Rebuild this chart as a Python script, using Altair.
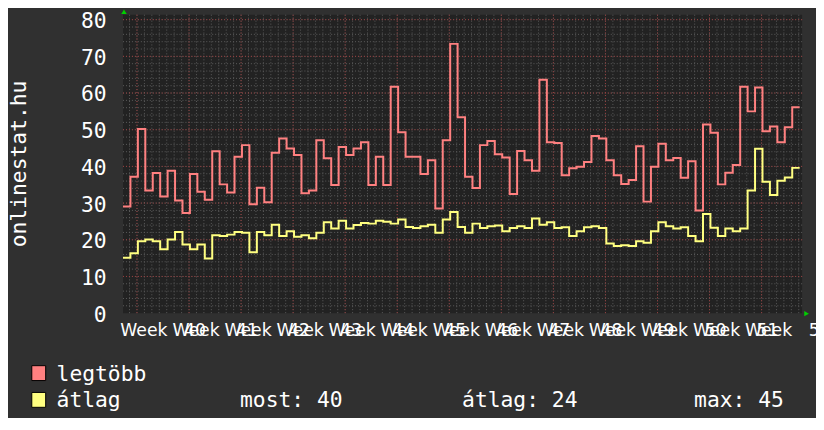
import altair as alt
import pandas as pd

# ---- data (daily steps) ----
DAYS = list(range(91))
LEGTOBB = [29.1, 37.2, 50.2, 33.4, 38.2, 31.8, 38.8, 30.7, 27.3, 37.9, 33.1, 30.9, 44.1, 35.1,
           32.9, 42.6, 45.8, 29.7, 34.2, 30.2, 43.7, 47.6, 44.9,
           43.1, 32.7, 33.4, 47.1, 42.2, 34.9, 45.3, 43.1, 44.9, 46.6, 34.9, 42.6, 34.9, 61.7,
           49.3, 42.6, 42.6, 37.9, 41.7, 28.5, 47.1, 73.4, 53.4,
           37.2, 34.1, 45.8, 46.9, 43.3, 42.4, 32.5, 44.2, 41.7, 38.8, 63.6, 46.6, 46.4, 37.6,
           39.5, 39.9, 41.2, 48.3, 47.6, 41.7, 37.6, 35.2,
           36.3, 45.5, 30.4, 39.9, 46.2, 41.7, 42.3, 36.9, 41.4, 28.0, 51.4, 49.2, 35.1, 38.3,
           40.4, 61.7, 55.0, 61.5, 49.6, 50.9, 46.6, 50.7, 56.1]
ATLAG = [15.1, 16.3, 19.6, 20.1, 19.6, 17.4, 20.1, 22.1, 18.7, 17.4, 18.7, 14.9, 21.2, 21.0,
         21.4, 22.1, 21.9, 16.6, 22.1, 21.2, 24.1, 21.0, 22.3,
         20.8, 21.2, 20.4, 21.9, 24.8, 23.1, 25.2, 23.1, 24.0, 24.6, 24.4, 25.2, 24.9, 24.4,
         25.5, 23.5, 23.2, 23.7, 24.1, 21.9, 25.5, 27.6, 23.5,
         21.9, 24.4, 23.2, 23.7, 23.9, 22.3, 23.2, 23.7, 23.2, 25.8, 24.1, 24.8, 23.2, 23.4,
         21.0, 22.3, 23.4, 23.7, 23.2, 19.0, 18.3, 18.5,
         18.3, 19.6, 19.2, 22.3, 24.8, 23.7, 23.1, 23.4, 21.0, 19.6, 27.0, 23.3, 21.0, 23.1,
         22.3, 23.1, 33.4, 44.8, 35.8, 32.2, 36.1, 37.0, 39.6]
SERIES = ["legtöbb", "átlag"]
COLORS = ["#ff8080", "#ffff80"]
WEEK_NUMBERS = list(range(40, 53))
FIRST_WEEK_DAY = 1.88          # first week boundary, in day units
Y_TICKS = list(range(0, 81, 10))
STATS = ["most: 40", "átlag: 24", "max: 45"]
TITLE = "onlinestat.hu"

X_MAX = 91.33
Y_MAX = 81.35
W, H = 685, 301
MONO = "DejaVu Sans Mono"

# ---- tables ----
rows = []
for name, vals in zip(SERIES, [LEGTOBB, ATLAG]):
    xs = DAYS + [DAYS[-1] + 1]
    ys = vals + [vals[-1]]
    for xv, yv in zip(xs, ys):
        rows.append({"day": xv, "value": yv, "series": name})
df = pd.DataFrame(rows)

week_pos = [FIRST_WEEK_DAY + 7 * i for i in range(len(WEEK_NUMBERS))]
minor_x = [FIRST_WEEK_DAY - 1 + i for i in range(int(X_MAX) + 1) if FIRST_WEEK_DAY - 1 + i < X_MAX]
minor_y = [v for v in range(2, 81, 2)]
major_y = [v for v in Y_TICKS if v > 0]

xscale = alt.Scale(domain=[0, X_MAX], nice=False, zero=False)
yscale = alt.Scale(domain=[0, Y_MAX], nice=False, zero=False)
cscale = alt.Scale(domain=SERIES, range=COLORS)

NB = "\u00a0"
label_list = "[" + ",".join("'Week%s%d'" % (NB * 3, n) for n in WEEK_NUMBERS) + "]"
X_AXIS = alt.Axis(values=week_pos, title=None, grid=False, domain=False, ticks=False,
                  labelExpr=label_list + "[round((datum.value - %s) / 7)]" % FIRST_WEEK_DAY,
                  labelFont="DejaVu Sans", labelFontSize=17.4, labelColor="#ffffff",
                  labelAlign="left", labelOffset=-17.3, labelBaseline="alphabetic",
                  labelPadding=23, labelFlush=False, labelOverlap=False, labelBound=False,
                  labelLimit=0)
Y_AXIS = alt.Axis(values=Y_TICKS, title=TITLE, grid=False, domain=False, ticks=False,
                  labelFont=MONO, labelFontSize=21.5, labelColor="#ffffff",
                  labelPadding=17, labelBaseline="alphabetic", labelOffset=8,
                  titleFont=MONO, titleFontSize=21.5, titleFontWeight="normal",
                  titleColor="#ffffff", titleAngle=270, titleX=-98, titleY=150,
                  titleAlign="center", titleBaseline="alphabetic")

MINOR = "#5c5c5c"
MAJOR = "#9a3c3c"
grid_minor_v = alt.Chart(pd.DataFrame({"day": minor_x})).mark_rule(
    color=MINOR, strokeWidth=1, strokeDash=[1, 2]
).encode(x=alt.X("day:Q", scale=xscale, axis=X_AXIS))
grid_minor_h = alt.Chart(pd.DataFrame({"value": minor_y})).mark_rule(
    color=MINOR, strokeWidth=1, strokeDash=[1, 2]
).encode(y=alt.Y("value:Q", scale=yscale, axis=Y_AXIS))
grid_major_v = alt.Chart(pd.DataFrame({"day": week_pos})).mark_rule(
    color=MAJOR, strokeWidth=1, strokeDash=[1, 2]
).encode(x=alt.X("day:Q", scale=xscale, axis=X_AXIS))
grid_major_h = alt.Chart(pd.DataFrame({"value": major_y})).mark_rule(
    color=MAJOR, strokeWidth=1, strokeDash=[1, 2]
).encode(y=alt.Y("value:Q", scale=yscale, axis=Y_AXIS))

lines = alt.Chart(df).mark_line(interpolate="step-after", strokeWidth=2).encode(
    x=alt.X("day:Q", scale=xscale, axis=X_AXIS),
    y=alt.Y("value:Q", scale=yscale, axis=Y_AXIS),
    color=alt.Color("series:N", scale=cscale, legend=None),
    detail="series:N",
)

# ---- legend (RRD style) ----
red_sw = alt.Chart(pd.DataFrame({"series": [SERIES[0]]})).mark_rect(stroke="#000000", strokeWidth=1).encode(
    x=alt.value(-92), x2=alt.value(-78), y=alt.value(354), y2=alt.value(369),
    color=alt.Color("series:N", scale=cscale, legend=None))
yel_sw = alt.Chart(pd.DataFrame({"series": [SERIES[1]]})).mark_rect(stroke="#000000", strokeWidth=1).encode(
    x=alt.value(-92), x2=alt.value(-78), y=alt.value(381), y2=alt.value(396),
    color=alt.Color("series:N", scale=cscale, legend=None))


def txt(s, x, y):
    return alt.Chart(pd.DataFrame({"t": [s]})).mark_text(
        font=MONO, fontSize=21.5, color="#ffffff", align="left", baseline="alphabetic"
    ).encode(text="t:N", x=alt.value(x), y=alt.value(y))


legend_texts = [
    txt(SERIES[0], -67, 369),
    txt(SERIES[1], -67, 396),
    txt(STATS[0], 118, 396),
    txt(STATS[1], 342, 396),
    txt(STATS[2], 576, 396),
]

arrow_up = alt.Chart(pd.DataFrame({"a": [1]})).mark_point(
    shape="triangle-up", filled=True, color="#00d000", size=30, opacity=1
).encode(x=alt.value(1), y=alt.value(-3))
arrow_right = alt.Chart(pd.DataFrame({"a": [1]})).mark_point(
    shape="triangle-right", filled=True, color="#00d000", size=30, opacity=1
).encode(x=alt.value(689.5), y=alt.value(301.5))

chart = alt.layer(
    grid_minor_v, grid_minor_h, grid_major_v, grid_major_h, lines,
    red_sw, yel_sw, *legend_texts, arrow_up, arrow_right
).properties(
    width=W, height=H,
    autosize=alt.AutoSizeParams(type="none"),
    padding={"left": 116, "top": 5, "right": 14, "bottom": 104},
    background="#303030",
).configure_view(fill="#222222", stroke=None)

chart.save("out.html", embed_options={"renderer": "svg", "actions": False})
